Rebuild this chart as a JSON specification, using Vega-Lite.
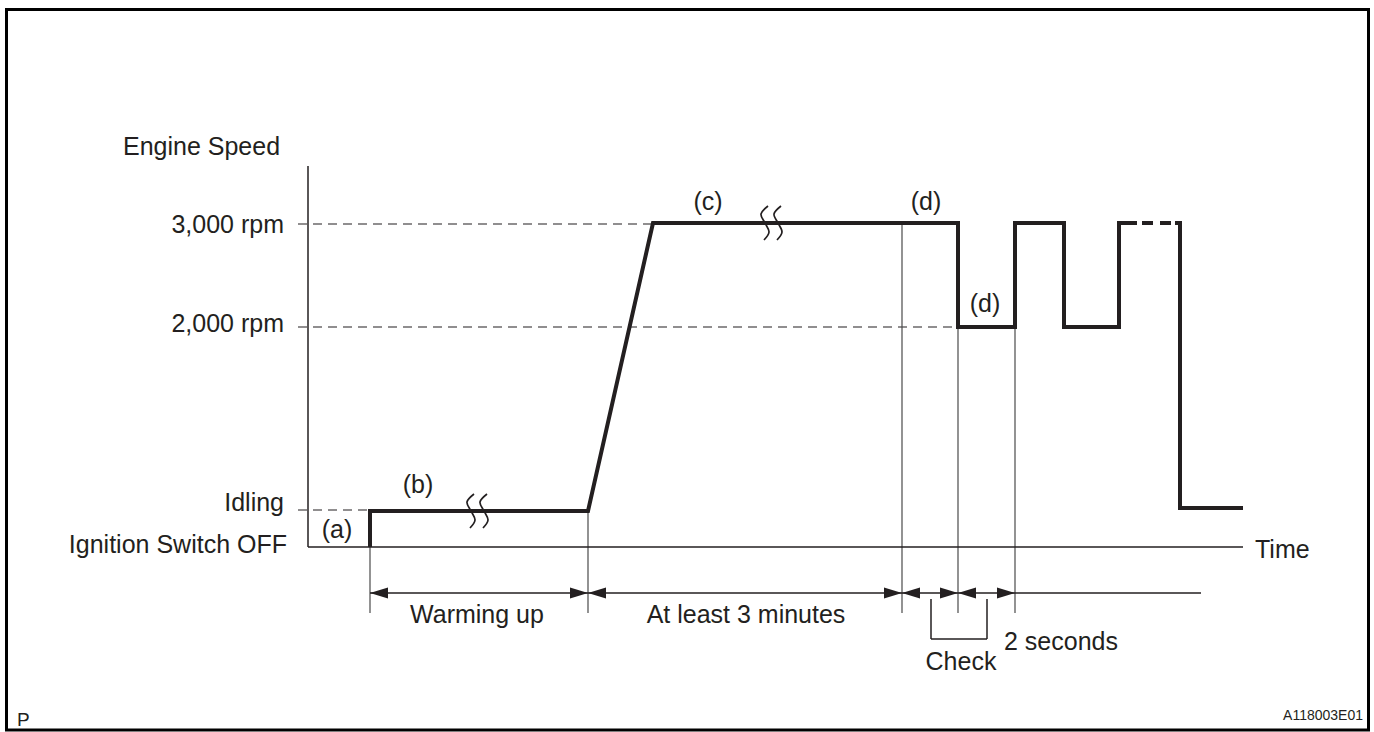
{
  "$schema": "https://vega.github.io/schema/vega-lite/v6.json",
  "width": 1374,
  "height": 732,
  "padding": 0,
  "autosize": {"type": "fit", "contains": "padding"},
  "background": "white",
  "config": {"view": {"stroke": null}},
  "datasets": {
    "border": [{"x": 6.5, "y": 9.5, "x2": 1368.5, "y2": 730}],
    "rules": [
      {"kind": "axis", "x": 308, "y": 166, "x2": 308, "y2": 547},
      {"kind": "axis", "x": 308, "y": 547, "x2": 1243, "y2": 547},
      {"kind": "guide", "x": 298, "y": 224, "x2": 653, "y2": 224},
      {"kind": "guide", "x": 298, "y": 327, "x2": 958, "y2": 327},
      {"kind": "guide", "x": 298, "y": 510, "x2": 370, "y2": 510},
      {"kind": "ext", "x": 370, "y": 547, "x2": 370, "y2": 613},
      {"kind": "ext", "x": 588, "y": 511, "x2": 588, "y2": 613},
      {"kind": "ext", "x": 902, "y": 224, "x2": 902, "y2": 613},
      {"kind": "ext", "x": 958, "y": 327, "x2": 958, "y2": 613},
      {"kind": "ext", "x": 1015, "y": 327, "x2": 1015, "y2": 613},
      {"kind": "dim", "x": 370, "y": 593, "x2": 1201, "y2": 593},
      {"kind": "dim", "x": 931, "y": 599, "x2": 931, "y2": 639},
      {"kind": "dim", "x": 931, "y": 639, "x2": 987, "y2": 639},
      {"kind": "dim", "x": 987, "y": 599, "x2": 987, "y2": 639}
    ],
    "paths": [
      {"s": "main", "o": 1, "x": 370, "y": 547},
      {"s": "main", "o": 2, "x": 370, "y": 511},
      {"s": "main", "o": 3, "x": 588, "y": 511},
      {"s": "main", "o": 4, "x": 653, "y": 223},
      {"s": "main", "o": 5, "x": 958, "y": 223},
      {"s": "main", "o": 6, "x": 958, "y": 327},
      {"s": "main", "o": 7, "x": 1015, "y": 327},
      {"s": "main", "o": 8, "x": 1015, "y": 223},
      {"s": "main", "o": 9, "x": 1064, "y": 223},
      {"s": "main", "o": 10, "x": 1064, "y": 327},
      {"s": "main", "o": 11, "x": 1119, "y": 327},
      {"s": "main", "o": 12, "x": 1119, "y": 223},
      {"s": "main", "o": 13, "x": 1137, "y": 223},
      {"s": "end", "o": 1, "x": 1175, "y": 223},
      {"s": "end", "o": 2, "x": 1180, "y": 223},
      {"s": "end", "o": 3, "x": 1180, "y": 508},
      {"s": "end", "o": 4, "x": 1243, "y": 508},
      {"s": "dash", "o": 1, "x": 1142, "y": 223},
      {"s": "dash", "o": 2, "x": 1171, "y": 223},
      {"s": "sq1", "o": 1, "x": 474, "y": 494},
      {"s": "sq1", "o": 2, "x": 467, "y": 502},
      {"s": "sq1", "o": 3, "x": 471, "y": 511},
      {"s": "sq1", "o": 4, "x": 475, "y": 520},
      {"s": "sq1", "o": 5, "x": 470, "y": 528},
      {"s": "sq2", "o": 1, "x": 487, "y": 494},
      {"s": "sq2", "o": 2, "x": 480, "y": 502},
      {"s": "sq2", "o": 3, "x": 484, "y": 511},
      {"s": "sq2", "o": 4, "x": 488, "y": 520},
      {"s": "sq2", "o": 5, "x": 483, "y": 528},
      {"s": "sq3", "o": 1, "x": 768, "y": 206},
      {"s": "sq3", "o": 2, "x": 761, "y": 214},
      {"s": "sq3", "o": 3, "x": 765, "y": 223},
      {"s": "sq3", "o": 4, "x": 769, "y": 232},
      {"s": "sq3", "o": 5, "x": 764, "y": 240},
      {"s": "sq4", "o": 1, "x": 781, "y": 206},
      {"s": "sq4", "o": 2, "x": 774, "y": 214},
      {"s": "sq4", "o": 3, "x": 778, "y": 223},
      {"s": "sq4", "o": 4, "x": 782, "y": 232},
      {"s": "sq4", "o": 5, "x": 777, "y": 240}
    ],
    "arrows": [
      {"dir": "L", "x": 370, "y": 593},
      {"dir": "R", "x": 588, "y": 593},
      {"dir": "L", "x": 588, "y": 593},
      {"dir": "R", "x": 902, "y": 593},
      {"dir": "L", "x": 902, "y": 593},
      {"dir": "R", "x": 958, "y": 593},
      {"dir": "L", "x": 958, "y": 593},
      {"dir": "R", "x": 1015, "y": 593}
    ],
    "labels": [
      {"role": "right", "label": "3,000 rpm", "x": 284, "y": 233},
      {"role": "right", "label": "2,000 rpm", "x": 284, "y": 332},
      {"role": "right", "label": "Idling", "x": 284, "y": 511},
      {"role": "right", "label": "Ignition Switch OFF", "x": 287, "y": 553},
      {"role": "center", "label": "(a)", "x": 337, "y": 538},
      {"role": "center", "label": "(b)", "x": 418, "y": 493},
      {"role": "center", "label": "(c)", "x": 708, "y": 210},
      {"role": "center", "label": "(d)", "x": 926, "y": 210},
      {"role": "center", "label": "(d)", "x": 985, "y": 312},
      {"role": "center", "label": "Warming up", "x": 477, "y": 623},
      {"role": "center", "label": "At least 3 minutes", "x": 746, "y": 623},
      {"role": "center", "label": "Check", "x": 961, "y": 670},
      {"role": "left", "label": "Engine Speed", "x": 123, "y": 155},
      {"role": "left", "label": "Time", "x": 1255, "y": 558},
      {"role": "left", "label": "2 seconds", "x": 1004, "y": 650},
      {"role": "corner", "label": "P", "x": 17, "y": 726},
      {"role": "code", "label": "A118003E01", "x": 1363, "y": 720}
    ]
  },
  "encoding": {
    "x": {"field": "x", "type": "quantitative", "scale": {"domain": [0, 1374], "nice": false, "zero": false}, "axis": null},
    "y": {"field": "y", "type": "quantitative", "scale": {"domain": [0, 732], "nice": false, "zero": false, "reverse": true}, "axis": null}
  },
  "layer": [
    {
      "data": {"name": "border"},
      "mark": {"type": "rect", "fill": null, "fillOpacity": 0, "stroke": "#000000", "strokeWidth": 3},
      "encoding": {"x2": {"field": "x2"}, "y2": {"field": "y2"}}
    },
    {
      "data": {"name": "rules"},
      "transform": [{"filter": "datum.kind === 'guide'"}],
      "mark": {"type": "rule", "color": "#231f20", "strokeWidth": 1.2, "strokeDash": [9, 6]},
      "encoding": {"x2": {"field": "x2"}, "y2": {"field": "y2"}}
    },
    {
      "data": {"name": "rules"},
      "transform": [{"filter": "datum.kind === 'ext'"}],
      "mark": {"type": "rule", "color": "#4a4a4a", "strokeWidth": 1.2},
      "encoding": {"x2": {"field": "x2"}, "y2": {"field": "y2"}}
    },
    {
      "data": {"name": "rules"},
      "transform": [{"filter": "datum.kind === 'axis' || datum.kind === 'dim'"}],
      "mark": {"type": "rule", "color": "#231f20", "strokeWidth": 1.5},
      "encoding": {"x2": {"field": "x2"}, "y2": {"field": "y2"}}
    },
    {
      "data": {"name": "arrows"},
      "mark": {"type": "point", "filled": true, "size": 100, "color": "#231f20", "opacity": 1, "strokeWidth": 0},
      "encoding": {
        "shape": {"field": "dir", "type": "nominal", "scale": {"domain": ["L", "R"], "range": ["M0,0L3.6,-1.1L3.6,1.1Z", "M0,0L-3.6,-1.1L-3.6,1.1Z"]}, "legend": null}
      }
    },
    {
      "data": {"name": "paths"},
      "transform": [{"filter": "datum.s === 'main' || datum.s === 'end'"}],
      "mark": {"type": "line", "color": "#231f20", "strokeWidth": 4, "strokeJoin": "miter", "strokeCap": "butt"},
      "encoding": {"detail": {"field": "s"}, "order": {"field": "o", "type": "quantitative"}}
    },
    {
      "data": {"name": "paths"},
      "transform": [{"filter": "datum.s === 'dash'"}],
      "mark": {"type": "line", "color": "#231f20", "strokeWidth": 4, "strokeCap": "butt", "strokeDash": [11, 7]},
      "encoding": {"detail": {"field": "s"}, "order": {"field": "o", "type": "quantitative"}}
    },
    {
      "data": {"name": "paths"},
      "transform": [{"filter": {"field": "s", "oneOf": ["sq1", "sq2", "sq3", "sq4"]}}],
      "mark": {"type": "line", "color": "#231f20", "strokeWidth": 1.7, "interpolate": "cardinal"},
      "encoding": {"detail": {"field": "s"}, "order": {"field": "o", "type": "quantitative"}}
    },
    {
      "data": {"name": "labels"},
      "transform": [{"filter": "datum.role === 'right'"}],
      "mark": {"type": "text", "align": "right", "baseline": "alphabetic", "font": "Liberation Sans", "fontSize": 25, "color": "#231f20"},
      "encoding": {"text": {"field": "label"}}
    },
    {
      "data": {"name": "labels"},
      "transform": [{"filter": "datum.role === 'center'"}],
      "mark": {"type": "text", "align": "center", "baseline": "alphabetic", "font": "Liberation Sans", "fontSize": 25, "color": "#231f20"},
      "encoding": {"text": {"field": "label"}}
    },
    {
      "data": {"name": "labels"},
      "transform": [{"filter": "datum.role === 'left'"}],
      "mark": {"type": "text", "align": "left", "baseline": "alphabetic", "font": "Liberation Sans", "fontSize": 25, "color": "#231f20"},
      "encoding": {"text": {"field": "label"}}
    },
    {
      "data": {"name": "labels"},
      "transform": [{"filter": "datum.role === 'corner'"}],
      "mark": {"type": "text", "align": "left", "baseline": "alphabetic", "font": "Liberation Sans", "fontSize": 19, "color": "#231f20"},
      "encoding": {"text": {"field": "label"}}
    },
    {
      "data": {"name": "labels"},
      "transform": [{"filter": "datum.role === 'code'"}],
      "mark": {"type": "text", "align": "right", "baseline": "alphabetic", "font": "Liberation Sans", "fontSize": 14, "color": "#231f20"},
      "encoding": {"text": {"field": "label"}}
    }
  ]
}
